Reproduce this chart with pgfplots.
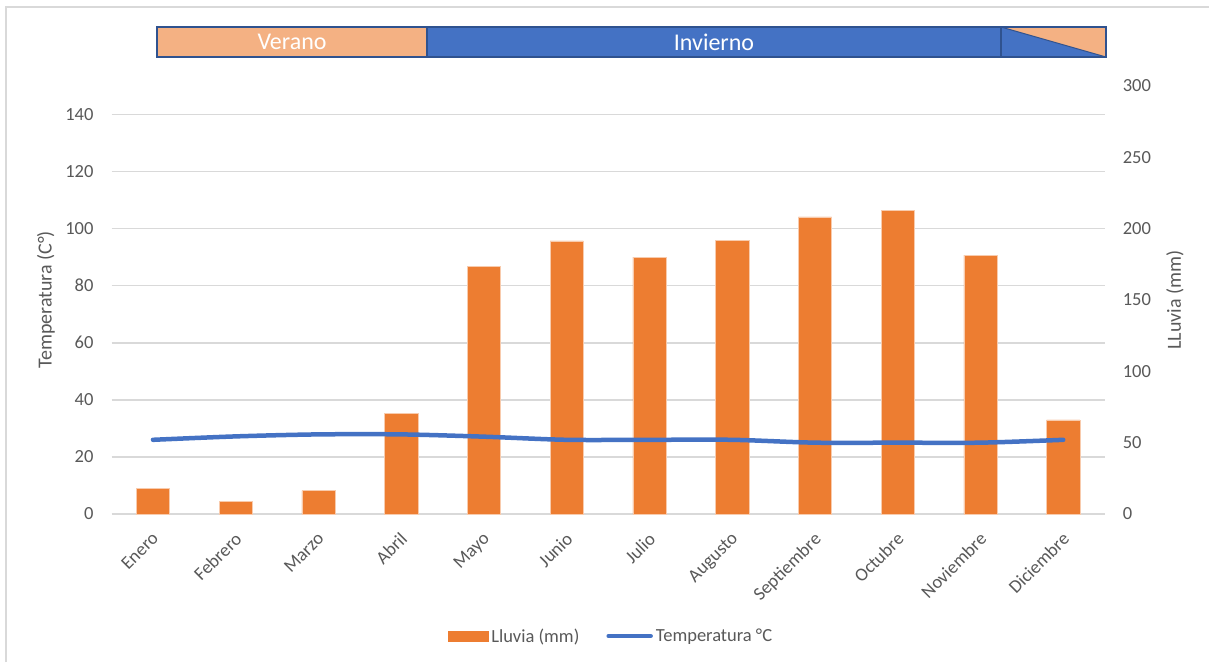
\documentclass[border=0pt]{standalone}
\usepackage{pgfplots}
\pgfplotsset{compat=1.18}
\usepackage{fontspec}
\setmainfont{Carlito}
\definecolor{barO}{HTML}{ED7D31}
\definecolor{barEdge}{HTML}{F8CBAD}
\definecolor{lineB}{HTML}{4472C4}
\definecolor{bandO}{HTML}{F4B183}
\definecolor{bandB}{HTML}{4472C4}
\definecolor{bandEdge}{HTML}{2F528F}
\definecolor{txtG}{HTML}{595959}
\definecolor{gridC}{HTML}{D9D9D9}

\pgfplotstableread{
x rain temp
0 17.7 26.0
1 9.1 27.2
2 16.3 27.9
3 70.6 27.9
4 173.8 27.1
5 191.4 26.0
6 180.1 26.0
7 192.0 26.0
8 208.2 25.0
9 213.0 25.0
10 181.5 25.0
11 65.9 26.0
}\datatable

\pgfplotsset{
  base/.style={
    at={(111.6pt,148pt)}, anchor=south west,
    scale only axis, width=993pt, height=428pt,
    xmin=-0.5, xmax=11.5,
    /pgf/number format/assume math mode=true,
    ticklabel style={font=\fontsize{18.5}{20}\selectfont, text=txtG},
    major tick length=0pt,
  }
}

\begin{document}
\begin{tikzpicture}[x=1pt,y=1pt]
\useasboundingbox (0,0) rectangle (1209,662);
\fill[white] (0,0) rectangle (1209,662);
\draw[gridC, line width=1.5pt] (6,0) -- (6,655) -- (1209,655);

% season band
\fill[bandO] (157,605) rectangle (427,635);
\fill[bandB] (427,605) rectangle (1106,635);
\fill[bandO] (1001,635) -- (1106,635) -- (1106,605) -- cycle;
\draw[bandEdge, line width=1.5pt] (157,605) rectangle (1106,635);
\draw[bandEdge, line width=1.5pt] (427,605) -- (427,635);
\draw[bandEdge, line width=1.5pt] (1001,605) -- (1001,635);
\draw[bandEdge, line width=1pt] (1001,635) -- (1106,605);
\node[text=white, font=\fontsize{24}{26}\selectfont] at (292,620) {Verano};
\node[text=white, font=\fontsize{24}{26}\selectfont] at (714,620) {Invierno};

% left axis: grid, ticks, labels
\begin{axis}[base,
  ymin=0, ymax=150, ytick={0,20,...,140},
  ymajorgrids, grid style={gridC, line width=1.5pt},
  axis line style={draw=none},
  xtick={0,...,11},
  xticklabels={Enero,Febrero,Marzo,Abril,Mayo,Junio,Julio,Augusto,Septiembre,Octubre,Noviembre,Diciembre},
  xticklabel style={xshift=-2pt, yshift=-17pt, rotate=45, anchor=north east, inner sep=0pt},
  yticklabel style={anchor=east, inner sep=0pt, xshift=-18pt},
  ylabel={Temperatura (C°)},
  y label style={at={(axis description cs:-0.0661,0.5)}, anchor=center,
    font=\fontsize{20}{22}\selectfont, text=txtG},
]
\addplot[draw=none] coordinates {(0,0)};
\end{axis}

% right axis: bars
\begin{axis}[base,
  ymin=0, ymax=300, ytick={0,50,...,300},
  axis y line*=right, axis x line=none,
  axis line style={draw=none},
  yticklabel style={anchor=west, inner sep=0pt, xshift=18pt},
  ylabel={LLuvia (mm)},
  y label style={at={(axis description cs:1.0708,0.5)}, anchor=center,
    font=\fontsize{20}{22}\selectfont, text=txtG},
]
\addplot[ybar, bar width=33.3pt, fill=barO, draw=barEdge, line width=0.6pt] table[x=x, y=rain] {\datatable};
\end{axis}

% temperature line (left scale) + legend
\begin{axis}[base,
  ymin=0, ymax=150,
  hide axis,
  legend style={at={(0.5034,-0.285)}, anchor=center, draw=none, fill=none,
    legend columns=2, font=\fontsize{18.5}{20}\selectfont, text=txtG,
    /tikz/every even column/.append style={column sep=24pt},
    nodes={inner sep=3pt}},
  legend cell align=left,
]
\addlegendimage{legend image code/.code={\fill[barO] (0pt,-5pt) rectangle (40pt,5pt);}}
\addlegendentry{Lluvia (mm)}
\addplot[lineB, line width=4.5pt, smooth, line cap=round,
  legend image code/.code={\draw[lineB, line width=4.5pt, line cap=round] (2pt,0pt) -- (44pt,0pt);}]
  table[x=x, y=temp] {\datatable};
\addlegendentry{Temperatura °C}
\end{axis}
\end{tikzpicture}
\end{document}
